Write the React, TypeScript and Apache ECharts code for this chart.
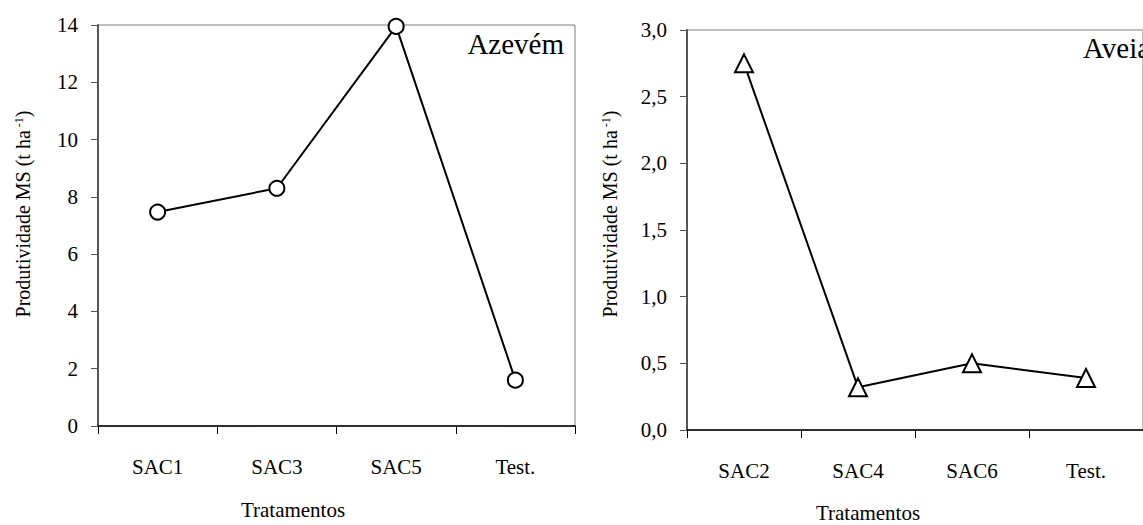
import React, { useEffect, useRef } from "react";
import * as echarts from "echarts";

const azevemCategories = ["SAC1", "SAC3", "SAC5", "Test."];
const azevemValues = [7.47, 8.3, 13.95, 1.6];
const aveiaCategories = ["SAC2", "SAC4", "SAC6", "Test."];
const aveiaValues = [2.75, 0.32, 0.5, 0.39];

const FONT = "Times New Roman";
const TICK_FS = 21;

export default function App() {
  const ref = useRef<HTMLDivElement>(null);
  useEffect(() => {
    if (!ref.current) return;
    const chart = echarts.init(ref.current, null, { renderer: "svg" });
    const yTitle = (x: number, y: number) => ({
      type: "text",
      x,
      y,
      rotation: Math.PI / 2,
      style: {
        text: "{n|Produtividade MS (t ha}{s|-1}{n|)}",
        textAlign: "center",
        textVerticalAlign: "middle",
        fill: "#000",
        rich: {
          n: { fontFamily: FONT, fontSize: 20, fill: "#000" },
          s: { fontFamily: FONT, fontSize: 12, fill: "#000", verticalAlign: "top", padding: [0, 0, 8, 3] },
        },
      },
    });
    const xTitle = (x: number, y: number) => ({
      type: "text",
      x,
      y,
      style: {
        text: "Tratamentos",
        fontFamily: FONT,
        fontSize: 21,
        fill: "#000",
        textAlign: "center",
        textVerticalAlign: "middle",
      },
    });
    const xAxisCommon = {
      type: "category",
      boundaryGap: true,
      axisLine: { lineStyle: { color: "#000", width: 1.5 } },
      axisTick: { show: true, length: 8, inside: false, lineStyle: { color: "#000", width: 1 } },
      axisLabel: { fontFamily: FONT, fontSize: TICK_FS, color: "#000", margin: 30 },
    };
    const yAxisCommon = {
      type: "value",
      axisLine: { show: true, lineStyle: { color: "#555", width: 2 } },
      axisTick: { show: true, length: 7, lineStyle: { color: "#555", width: 1 } },
      splitLine: { show: false },
      axisLabel: { fontFamily: FONT, fontSize: TICK_FS, color: "#000", margin: 20 },
    };
    chart.setOption({
      animation: false,
      backgroundColor: "#fff",
      textStyle: { fontFamily: FONT },
      grid: [
        { left: 98, top: 25, width: 477, height: 401, show: true, borderColor: "#808080", borderWidth: 1 },
        { left: 687, top: 30, width: 467, height: 400, show: true, borderColor: "#808080", borderWidth: 1 },
      ],
      xAxis: [
        { ...xAxisCommon, gridIndex: 0, data: azevemCategories },
        { ...xAxisCommon, gridIndex: 1, data: aveiaCategories },
      ],
      yAxis: [
        { ...yAxisCommon, gridIndex: 0, min: 0, max: 14, interval: 2 },
        {
          ...yAxisCommon,
          gridIndex: 1,
          min: 0,
          max: 3,
          interval: 0.5,
          axisLabel: {
            ...yAxisCommon.axisLabel,
            formatter: (v: number) => v.toFixed(1).replace(".", ","),
          },
        },
      ],
      series: [
        {
          type: "line",
          xAxisIndex: 0,
          yAxisIndex: 0,
          data: azevemValues,
          symbol: "circle",
          symbolSize: 15,
          lineStyle: { color: "#000", width: 2 },
          itemStyle: { color: "#fff", borderColor: "#000", borderWidth: 2 },
          z: 5,
        },
        {
          type: "line",
          xAxisIndex: 1,
          yAxisIndex: 1,
          data: aveiaValues,
          symbol: "triangle",
          symbolSize: 18,
          lineStyle: { color: "#000", width: 2 },
          itemStyle: { color: "#fff", borderColor: "#000", borderWidth: 2 },
          z: 5,
        },
      ],
      graphic: [
        yTitle(23, 214),
        yTitle(610, 214),
        xTitle(293, 510),
        xTitle(868, 513),
        {
          type: "text",
          x: 564,
          y: 44,
          style: { text: "Azevém", fontFamily: FONT, fontSize: 29, fill: "#000", textAlign: "right", textVerticalAlign: "middle" },
        },
        {
          type: "text",
          x: 1083,
          y: 48,
          style: { text: "Aveia", fontFamily: FONT, fontSize: 29, fill: "#000", textAlign: "left", textVerticalAlign: "middle" },
        },
      ],
    });
    return () => chart.dispose();
  }, []);
  return (
    <div
      ref={ref}
      style={{ position: "fixed", left: 0, top: 0, width: 1143, height: 525, background: "#fff" }}
    />
  );
}
